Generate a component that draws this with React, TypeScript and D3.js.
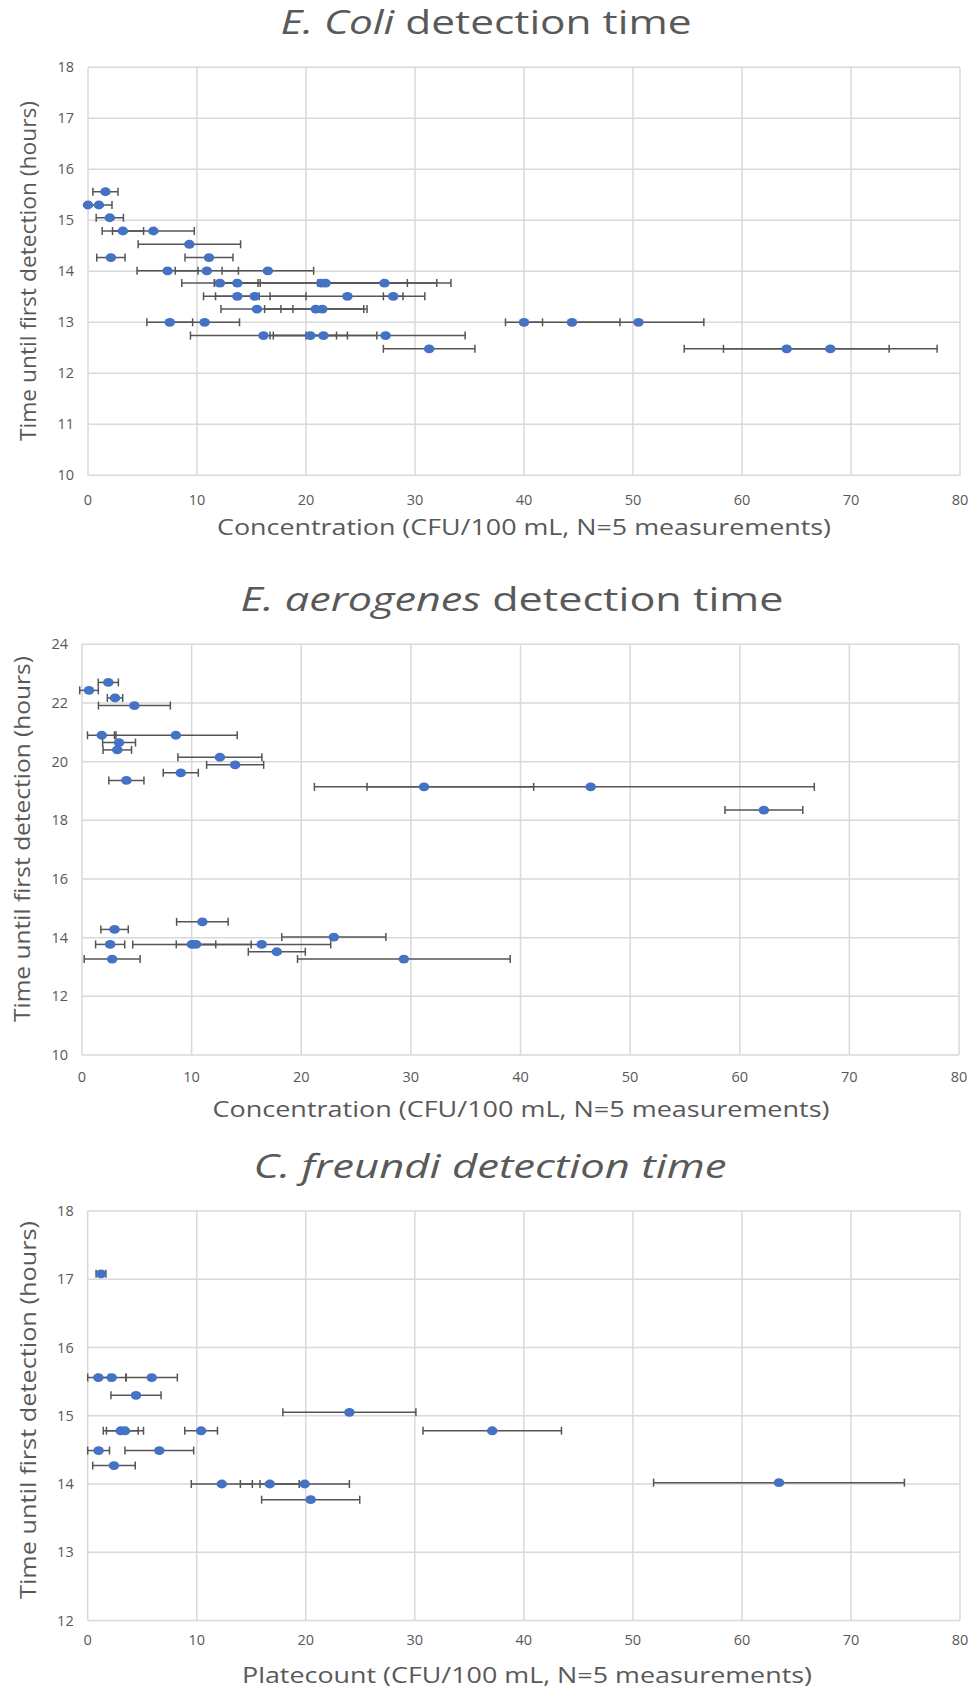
import React from "react";
import * as d3 from "d3";

// ---------- Data ----------
const xTicks = [0, 10, 20, 30, 40, 50, 60, 70, 80];

// E. coli
const ecoliTime = [15.56, 15.3, 15.3, 15.05, 14.79, 14.79, 14.53, 14.27, 14.27, 14.01, 14.01, 14.01,
  13.77, 13.77, 13.77, 13.77, 13.77, 13.51, 13.51, 13.51, 13.51, 13.26, 13.26, 13.26,
  13.0, 13.0, 13.0, 13.0, 13.0, 12.74, 12.74, 12.74, 12.74, 12.48, 12.48, 12.48];
const ecoliConc = [1.6, 0.0, 1.0, 2.0, 3.2, 6.0, 9.3, 2.1, 11.1, 7.3, 10.9, 16.5,
  12.1, 13.7, 21.4, 21.8, 27.2, 13.7, 15.3, 23.8, 28.0, 15.5, 20.9, 21.5,
  7.5, 10.7, 40.0, 44.4, 50.5, 16.1, 20.4, 21.6, 27.3, 31.3, 64.1, 68.1];
const ecoliErr = [1.15, 0, 1.2, 1.25, 1.9, 3.75, 4.7, 1.3, 2.2, 2.8, 2.9, 4.2,
  3.5, 2.1, 7.9, 10.2, 6.1, 2.0, 4.7, 7.1, 0.9, 3.3, 4.7, 3.8,
  2.1, 3.2, 1.7, 4.4, 6.0, 6.7, 3.4, 4.9, 7.3, 4.2, 9.4, 9.8];
const ecoliYTicks = [10, 11, 12, 13, 14, 15, 16, 17, 18];

// E. aerogenes
const aeroTime = [22.7, 22.43, 22.17, 21.91, 20.9, 20.9, 20.65, 20.4, 20.15, 19.89, 19.62, 19.36,
  19.14, 19.14, 18.35, 14.54, 14.28, 14.02, 13.77, 13.77, 13.77, 13.77, 13.52, 13.27, 13.27];
const aeroConc = [2.4, 0.64, 3.01, 4.78, 1.8, 8.56, 3.38, 3.22, 12.58, 13.97, 9.01, 4.05,
  31.2, 46.4, 62.2, 10.98, 2.97, 22.97, 2.57, 10.03, 10.4, 16.39, 17.77, 2.75, 29.36];
const aeroErr = [0.92, 0.85, 0.7, 3.28, 1.3, 5.6, 1.5, 1.3, 3.83, 2.6, 1.6, 1.6,
  10.0, 20.4, 3.55, 2.35, 1.25, 4.75, 1.33, 5.4, 1.8, 6.3, 2.6, 2.55, 9.7];
const aeroYTicks = [10, 12, 14, 16, 18, 20, 22, 24];

// C. freundi
const freundiTime = [17.08, 15.56, 15.56, 15.56, 15.3, 15.05, 14.78, 14.78, 14.78, 14.78,
  14.49, 14.49, 14.27, 14.0, 14.0, 14.0, 14.02, 13.77];
const freundiConc = [1.22, 0.98, 2.2, 5.87, 4.43, 24.0, 3.03, 3.42, 10.4, 37.1,
  1.0, 6.57, 2.41, 12.3, 16.7, 19.9, 63.4, 20.45];
const freundiErr = [0.45, 0.98, 1.3, 2.35, 2.3, 6.1, 1.6, 1.7, 1.5, 6.35,
  1.0, 3.15, 1.95, 2.8, 2.7, 4.1, 11.5, 4.5];
const freundiYTicks = [12, 13, 14, 15, 16, 17, 18];

// ---------- Styles ----------
const FONT = "'Open Sans', 'Noto Sans', sans-serif";
const TEXT = "#595959";
const GRID = "#d9d9d9";
const BAR = "#555555";
const DOT = "#4472c4";

type Box = { left: number; right: number; top: number; bottom: number };

function Panel(props: {
  conc: number[];
  time: number[];
  err: number[];
  yTicks: number[];
  box: Box;
  title: React.ReactNode;
  titleX: number;
  titleY: number;
  titleLen: number;
  xTitle: string;
  xTitleX: number;
  xTitleY: number;
  xTitleLen: number;
  xTickY: number;
  yTitleX: number;
  yTitleY: number;
  yTitleLen: number;
}) {
  const { conc, time, err, yTicks, box } = props;
  const x = d3.scaleLinear().domain([0, 80]).range([box.left, box.right]);
  const yExt = d3.extent(yTicks) as [number, number];
  const y = d3.scaleLinear().domain(yExt).range([box.bottom, box.top]);
  const cap = 4;
  return (
    <g>
      {xTicks.map((t) => (
        <line key={"gx" + t} x1={x(t)} x2={x(t)} y1={y(yExt[1])} y2={y(yExt[0])} stroke={GRID} strokeWidth={1.5} />
      ))}
      {yTicks.map((t) => (
        <line key={"gy" + t} x1={x(0)} x2={x(80)} y1={y(t)} y2={y(t)} stroke={GRID} strokeWidth={1.5} />
      ))}
      {xTicks.map((t) => (
        <text key={"tx" + t} x={x(t)} y={props.xTickY + 5} textAnchor="middle" fontSize={14.5} fill={TEXT} fontFamily={FONT}>
          {t}
        </text>
      ))}
      {yTicks.map((t) => (
        <text key={"ty" + t} x={box.left - 14} y={y(t) + 5} textAnchor="end" fontSize={14.5} fill={TEXT} fontFamily={FONT}>
          {t}
        </text>
      ))}
      {conc.map((c, i) => {
        const yy = y(time[i]);
        const x1 = x(c - err[i]);
        const x2 = x(c + err[i]);
        if (err[i] === 0) return null;
        return (
          <g key={"e" + i} stroke={BAR} strokeWidth={1.5}>
            <line x1={x1} x2={x2} y1={yy} y2={yy} />
            <line x1={x1} x2={x1} y1={yy - cap} y2={yy + cap} />
            <line x1={x2} x2={x2} y1={yy - cap} y2={yy + cap} />
          </g>
        );
      })}
      {conc.map((c, i) => (
        <ellipse key={"p" + i} cx={x(c)} cy={y(time[i])} rx={5.3} ry={4.4} fill={DOT} />
      ))}
      <text x={props.titleX} y={props.titleY} textAnchor="middle" fontSize={32} fill={TEXT} fontFamily={FONT}
        textLength={props.titleLen} lengthAdjust="spacingAndGlyphs">
        {props.title}
      </text>
      <text x={props.xTitleX} y={props.xTitleY} textAnchor="middle" fontSize={22} fill={TEXT} fontFamily={FONT}
        textLength={props.xTitleLen} lengthAdjust="spacingAndGlyphs">
        {props.xTitle}
      </text>
      <text
        transform={`translate(${props.yTitleX},${props.yTitleY}) rotate(-90)`}
        textAnchor="middle"
        fontSize={21}
        fill={TEXT}
        fontFamily={FONT}
        textLength={props.yTitleLen}
        lengthAdjust="spacingAndGlyphs"
      >
        Time until first detection (hours)
      </text>
    </g>
  );
}

export default function App() {
  return (
    <svg
      width={973}
      height={1690}
      style={{ position: "absolute", left: 0, top: 0, background: "#ffffff" }}
    >
      <rect x={0} y={0} width={973} height={1690} fill="#ffffff" />
      <Panel
        conc={ecoliConc}
        time={ecoliTime}
        err={ecoliErr}
        yTicks={ecoliYTicks}
        box={{ left: 88, right: 960, top: 67.3, bottom: 475.3 }}
        title={<><tspan fontStyle="italic">E. Coli</tspan> detection time</>}
        titleX={486}
        titleY={34}
        titleLen={411}
        xTitle="Concentration (CFU/100 mL, N=5 measurements)"
        xTitleX={524}
        xTitleY={535}
        xTitleLen={614}
        xTickY={500}
        yTitleX={36}
        yTitleY={271}
        yTitleLen={340}
      />
      <Panel
        conc={aeroConc}
        time={aeroTime}
        err={aeroErr}
        yTicks={aeroYTicks}
        box={{ left: 82, right: 959, top: 644.3, bottom: 1055 }}
        title={<><tspan fontStyle="italic">E. aerogenes</tspan> detection time</>}
        titleX={512}
        titleY={611}
        titleLen={543}
        xTitle="Concentration (CFU/100 mL, N=5 measurements)"
        xTitleX={521}
        xTitleY={1117}
        xTitleLen={617}
        xTickY={1077}
        yTitleX={30}
        yTitleY={839}
        yTitleLen={366}
      />
      <Panel
        conc={freundiConc}
        time={freundiTime}
        err={freundiErr}
        yTicks={freundiYTicks}
        box={{ left: 87.7, right: 960, top: 1211, bottom: 1620.5 }}
        title={<tspan fontStyle="italic">C. freundi detection time</tspan>}
        titleX={490}
        titleY={1178}
        titleLen={473}
        xTitle="Platecount (CFU/100 mL, N=5 measurements)"
        xTitleX={527}
        xTitleY={1683}
        xTitleLen={570}
        xTickY={1640}
        yTitleX={36}
        yTitleY={1410}
        yTitleLen={378}
      />
    </svg>
  );
}
